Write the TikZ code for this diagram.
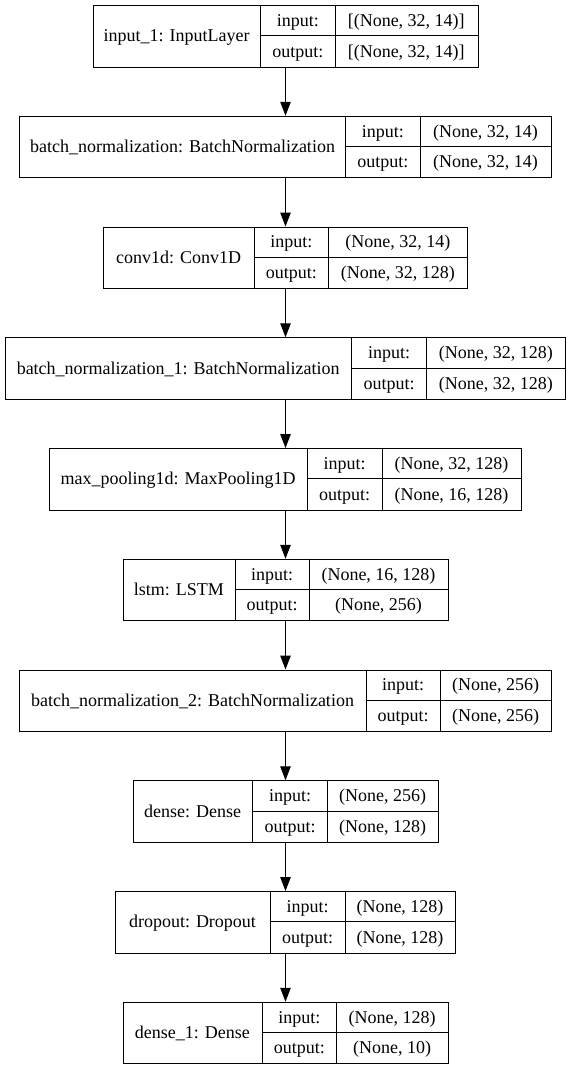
\documentclass[tikz,border=0pt]{standalone}
\usepackage{fontspec}
\setmainfont{Liberation Serif}
\usetikzlibrary{arrows.meta}
\tikzset{
  box/.style={draw=black, line width=1pt, inner sep=0pt, minimum height=61.5pt, fill=white},
  cell/.style={draw=black, line width=1pt},
  txt/.style={inner sep=0pt, anchor=base, font=\fontsize{18}{20}\selectfont},
  arr/.style={draw=black, line width=1pt, -{Triangle[length=14pt,width=10.5pt]}}
}
% #1 name, #2 top, #3 left, #4 d1, #5 d2, #6 right, #7 label, #8 in, #9 out
\newcommand\mklayer[9]{%
  \pgfmathsetmacro\lw{#6-#3}%
  \node[box, minimum width=\lw pt, anchor=north west] (#1) at (#3,#2) {};
  \draw[cell] (#4,#2) -- ++(0,61.5);
  \draw[cell] (#5,#2) -- ++(0,61.5);
  \draw[cell] (#4,{#2+30.75}) -- (#6,{#2+30.75});
  \node[txt] (#1-lab) at ({(#3+#4)/2},{#2+30.75+6}) {#7};
  \node[txt] (#1-ik) at ({(#4+#5)/2},{#2+15.4+6}) {input:};
  \node[txt] (#1-ok) at ({(#4+#5)/2},{#2+46.1+6}) {output:};
  \node[txt] (#1-iv) at ({(#5+#6)/2},{#2+15.4+6}) {#8};
  \node[txt] (#1-ov) at ({(#5+#6)/2},{#2+46.1+6}) {#9};
}
\begin{document}
\begin{tikzpicture}[x=1pt,y=-1pt]
\useasboundingbox[fill=white] (0,0) rectangle (571,1069);
\coordinate (ax) at (285.5,0);
\mklayer{L1}{5}{92.5}{260.5}{335}{477.5}{input\_1: InputLayer}{[(None, 32, 14)]}{[(None, 32, 14)]}
\mklayer{L2}{115.75}{19.3}{345.7}{420}{551}{batch\_normalization: BatchNormalization}{(None, 32, 14)}{(None, 32, 14)}
\mklayer{L3}{226.5}{103.3}{254}{328.7}{467}{conv1d: Conv1D}{(None, 32, 14)}{(None, 32, 128)}
\mklayer{L4}{337.25}{4.7}{351.7}{426.7}{565}{batch\_normalization\_1: BatchNormalization}{(None, 32, 128)}{(None, 32, 128)}
\mklayer{L5}{448}{49.3}{307}{382}{521}{max\_pooling1d: MaxPooling1D}{(None, 32, 128)}{(None, 16, 128)}
\mklayer{L6}{558.75}{122.7}{235}{309.3}{447.7}{lstm: LSTM}{(None, 16, 128)}{(None, 256)}
\mklayer{L7}{669.5}{19}{366}{440.3}{551}{batch\_normalization\_2: BatchNormalization}{(None, 256)}{(None, 256)}
\mklayer{L8}{780.25}{132.7}{252.7}{327.7}{437.7}{dense: Dense}{(None, 256)}{(None, 128)}
\mklayer{L9}{891}{115}{270}{345}{455}{dropout: Dropout}{(None, 128)}{(None, 128)}
\mklayer{L10}{1001.75}{122.7}{262}{336.7}{447.7}{dense\_1: Dense}{(None, 128)}{(None, 10)}
\foreach \a/\b in {L1/L2,L2/L3,L3/L4,L4/L5,L5/L6,L6/L7,L7/L8,L8/L9,L9/L10}
  \draw[arr] (ax |- \a.south) -- (ax |- \b.north);
\end{tikzpicture}
\end{document}
